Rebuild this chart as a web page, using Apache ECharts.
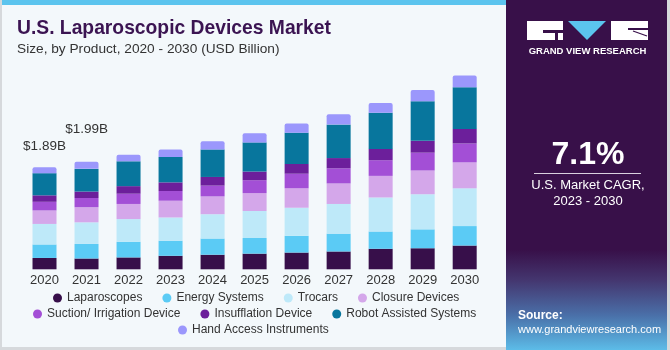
<!DOCTYPE html>
<html>
<head>
<meta charset="utf-8">
<script src="https://cdn.jsdelivr.net/npm/echarts@6/dist/echarts.min.js"></script>
<style>
html,body{margin:0;padding:0;background:#f3f8fb;}
#chart{width:670px;height:350px;}
</style>
</head>
<body>
<div id="chart"></div>
<script>
const years = ['2020','2021','2022','2023','2024','2025','2026','2027','2028','2029','2030'];
const laparoscopes = [0.21,0.20,0.22,0.25,0.27,0.29,0.31,0.33,0.38,0.39,0.44];
const energySystems = [0.25,0.27,0.29,0.28,0.30,0.29,0.31,0.33,0.32,0.35,0.36];
const trocars = [0.38,0.40,0.42,0.43,0.45,0.50,0.52,0.55,0.63,0.65,0.70];
const closureDevices = [0.25,0.28,0.28,0.31,0.33,0.33,0.36,0.38,0.40,0.44,0.48];
const suctionIrrigation = [0.16,0.17,0.19,0.18,0.20,0.24,0.27,0.28,0.29,0.33,0.35];
const insufflation = [0.12,0.12,0.14,0.16,0.16,0.16,0.18,0.19,0.21,0.22,0.27];
const robotAssisted = [0.41,0.42,0.46,0.47,0.51,0.54,0.58,0.62,0.67,0.73,0.77];
const handAccess = [0.11,0.13,0.12,0.14,0.15,0.17,0.17,0.19,0.18,0.21,0.22];
const totalLabels = ['$1.89B','$1.99B'];

const seriesNames = ['Laparoscopes','Energy Systems','Trocars','Closure Devices','Suction/ Irrigation Device','Insufflation Device','Robot Assisted Systems','Hand Access Instruments'];
const seriesData = [laparoscopes,energySystems,trocars,closureDevices,suctionIrrigation,insufflation,robotAssisted,handAccess];
const colors = ['#370f4a','#5bcbf5','#bee9f9','#d4a7ea','#a34fd6','#6c1f9b','#08769d','#9b97fc'];

const FONT = 'Liberation Sans';
const labelDist = [14, 26];

const series = seriesData.map((arr, si) => {
  const isTop = si === seriesData.length - 1;
  return {
    name: seriesNames[si],
    type: 'bar',
    stack: 'total',
    barWidth: 24,
    itemStyle: {color: colors[si], borderRadius: isTop ? [2,2,0,0] : 0},
    emphasis: {disabled: true},
    data: arr.map((v, i) => {
      if (isTop && i < totalLabels.length) {
        return {value: v, label: {show: true, position: 'top', distance: labelDist[i], formatter: totalLabels[i], color: '#333', fontSize: 13.5, fontFamily: FONT}};
      }
      return v;
    })
  };
});

const legendBase = {
  orient: 'horizontal', icon: 'circle', itemWidth: 9, itemHeight: 9, itemGap: 20, padding: 0,
  textStyle: {color: '#333', fontSize: 12, fontFamily: FONT},
  selectedMode: false
};

const chart = echarts.init(document.getElementById('chart'), null, {renderer: 'canvas'});
chart.setOption({
  backgroundColor: '#f3f8fb',
  animation: false,
  color: colors,
  title: [
    {text: 'U.S. Laparoscopic Devices Market', left: 17, top: 19, padding: 0, textStyle: {fontFamily: FONT, fontWeight: 'bold', fontSize: 19.3, color: '#3b1452'}},
    {text: 'Size, by Product, 2020 - 2030 (USD Billion)', left: 17, top: 42, padding: 0, textStyle: {fontFamily: FONT, fontWeight: 'normal', fontSize: 13.7, color: '#333'}}
  ],
  legend: [
    Object.assign({}, legendBase, {data: seriesNames.slice(0,4), left: 53, top: 292}),
    Object.assign({}, legendBase, {data: seriesNames.slice(4,7), left: 33, top: 308}),
    Object.assign({}, legendBase, {data: seriesNames.slice(7), left: 178, top: 324})
  ],
  grid: {left: 23.5, right: 184.3, top: 53.3, bottom: 80.7},
  xAxis: {
    type: 'category', data: years,
    axisLine: {show: false}, axisTick: {show: false},
    axisLabel: {color: '#333', fontSize: 13, fontFamily: FONT, margin: 5}
  },
  yAxis: {type: 'value', min: 0, max: 4, show: false, splitLine: {show: false}},
  series: series,
  graphic: [
    {type: 'rect', shape: {x: 0, y: 0, width: 506, height: 5}, style: {fill: '#5bc4ee'}, silent: true},
    {type: 'rect', shape: {x: 0, y: 0, width: 2, height: 350}, style: {fill: '#d6d9dc'}, silent: true},
    {type: 'rect', shape: {x: 0, y: 347, width: 506, height: 3}, style: {fill: '#d6d9dc'}, silent: true},
    {type: 'rect', shape: {x: 506, y: 0, width: 164, height: 350}, style: {fill: '#381049'}, silent: true},
    {type: 'rect', shape: {x: 506, y: 250, width: 164, height: 100}, silent: true,
      style: {fill: new echarts.graphic.LinearGradient(0,0,0,1,[
        {offset: 0, color: '#381049'}, {offset: 0.3, color: '#44366f'}, {offset: 0.65, color: '#4a6fa8'}, {offset: 1, color: '#5cbce8'}])}},
    {type: 'rect', shape: {x: 667, y: 0, width: 3, height: 350}, style: {fill: '#d6d9dc'}, silent: true},
    // logo
    {type: 'rect', shape: {x: 527, y: 21, width: 36, height: 19}, style: {fill: '#ffffff'}, silent: true},
    {type: 'rect', shape: {x: 543, y: 30, width: 20, height: 3}, style: {fill: '#381049'}, silent: true},
    {type: 'rect', shape: {x: 555, y: 30, width: 3, height: 10}, style: {fill: '#381049'}, silent: true},
    {type: 'polygon', shape: {points: [[568,21],[606,21],[587,40]]}, style: {fill: '#5bc4ee'}, silent: true},
    {type: 'rect', shape: {x: 611, y: 21, width: 37, height: 19}, style: {fill: '#ffffff'}, silent: true},
    {type: 'rect', shape: {x: 628, y: 28, width: 20, height: 2}, style: {fill: '#381049'}, silent: true},
    {type: 'line', shape: {x1: 633, y1: 31, x2: 647, y2: 36}, style: {stroke: '#381049', lineWidth: 1.2}, silent: true},
    {type: 'text', x: 587.5, y: 51.5, silent: true, style: {text: 'GRAND VIEW RESEARCH', fill: '#ffffff', font: 'bold 9.5px "Liberation Sans"', textAlign: 'center', textVerticalAlign: 'middle'}},
    {type: 'text', x: 588, y: 155, silent: true, style: {text: '7.1%', fill: '#ffffff', font: 'bold 32px "Liberation Sans"', textAlign: 'center', textVerticalAlign: 'middle'}},
    {type: 'line', shape: {x1: 534, y1: 173.5, x2: 641, y2: 173.5}, style: {stroke: '#d8d0de', lineWidth: 1}, silent: true},
    {type: 'text', x: 588, y: 185, silent: true, style: {text: 'U.S. Market CAGR,', fill: '#ffffff', font: '13px "Liberation Sans"', textAlign: 'center', textVerticalAlign: 'middle'}},
    {type: 'text', x: 588, y: 201, silent: true, style: {text: '2023 - 2030', fill: '#ffffff', font: '13px "Liberation Sans"', textAlign: 'center', textVerticalAlign: 'middle'}},
    {type: 'text', x: 518, y: 316, silent: true, style: {text: 'Source:', fill: '#ffffff', font: 'bold 12px "Liberation Sans"', textAlign: 'left', textVerticalAlign: 'middle'}},
    {type: 'text', x: 518, y: 330, silent: true, style: {text: 'www.grandviewresearch.com', fill: '#ffffff', font: '11px "Liberation Sans"', textAlign: 'left', textVerticalAlign: 'middle'}}
  ]
});
</script>
</body>
</html>
